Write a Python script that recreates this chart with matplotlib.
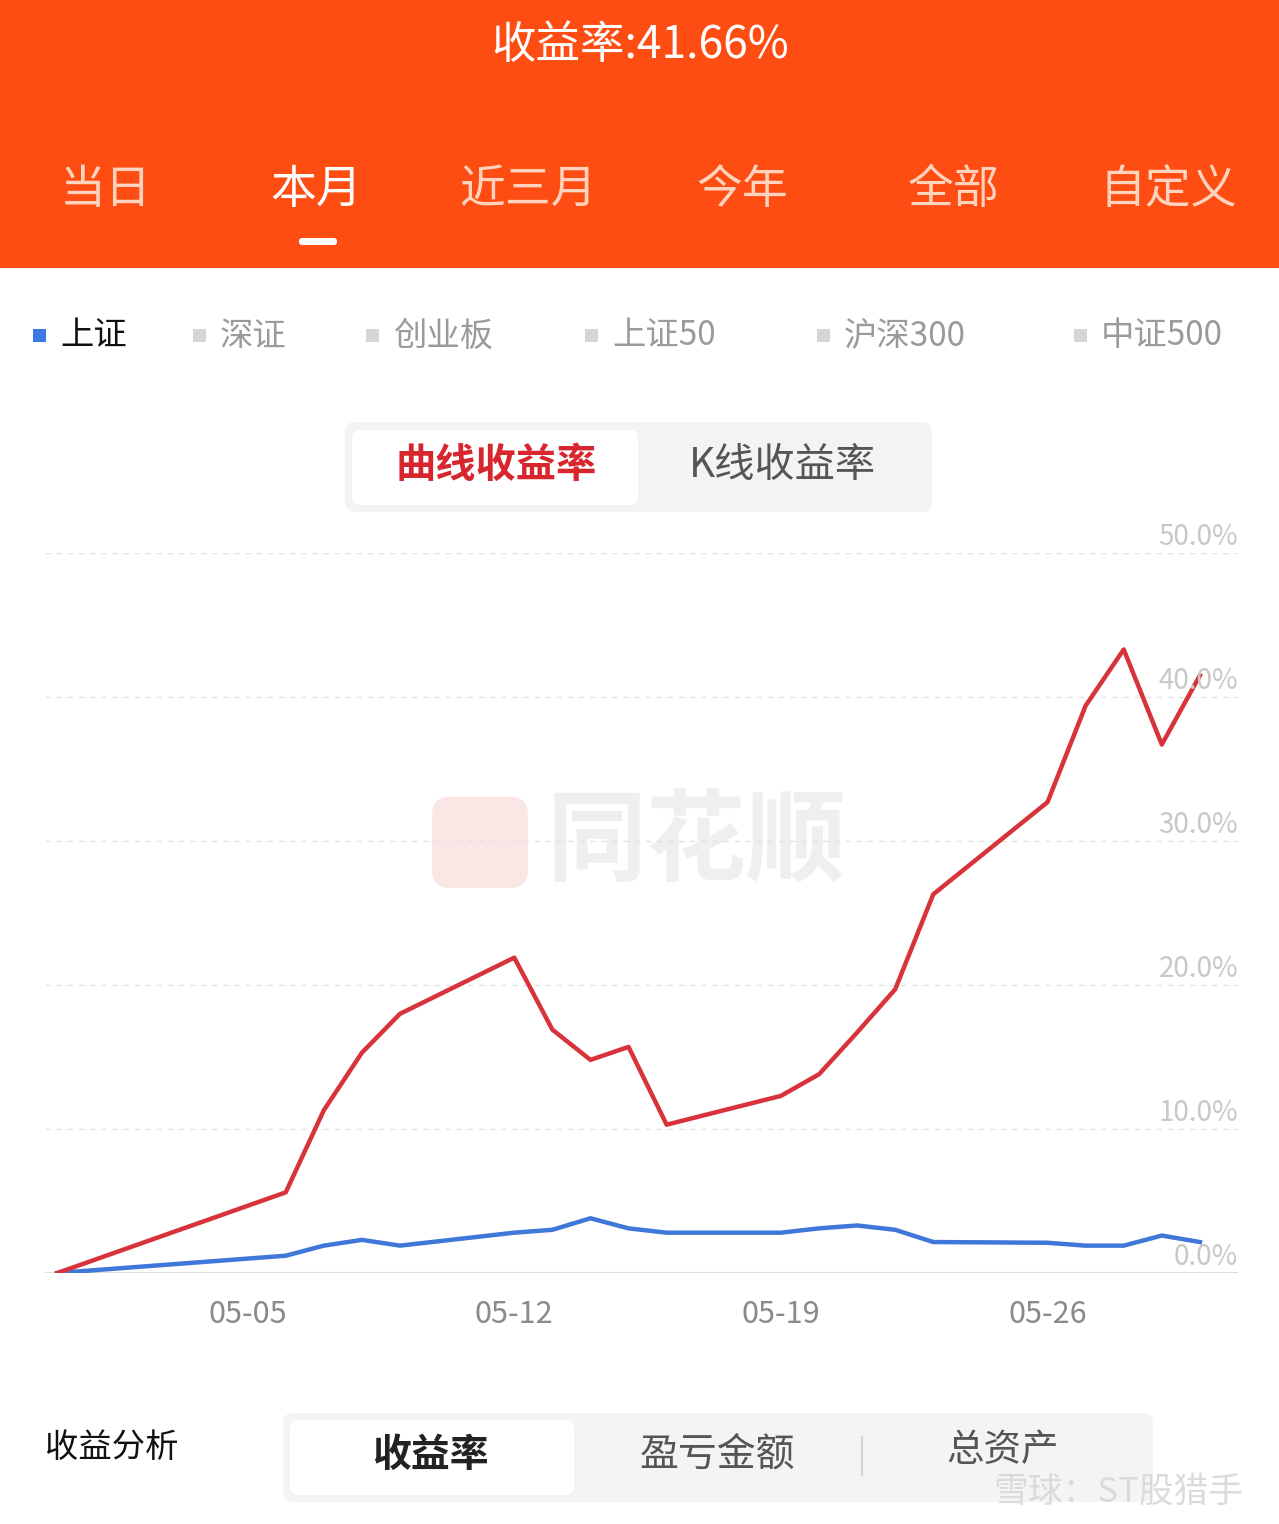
import pandas as pd
import matplotlib.pyplot as plt
import matplotlib.dates as mdates
from matplotlib.patches import FancyBboxPatch, Rectangle

plt.rcParams['font.family'] = ['Noto Sans CJK SC', 'DejaVu Sans']

# data (return in %)
dates = ['2025-04-30', '2025-05-06', '2025-05-07', '2025-05-08', '2025-05-09',
         '2025-05-12', '2025-05-13', '2025-05-14', '2025-05-15', '2025-05-16',
         '2025-05-19', '2025-05-20', '2025-05-21', '2025-05-22', '2025-05-23',
         '2025-05-26', '2025-05-27', '2025-05-28', '2025-05-29', '2025-05-30']
account = [0.0, 5.6, 11.3, 15.3, 18.0,
           21.9, 16.9, 14.8, 15.7, 10.3,
           12.3, 13.8, 16.7, 19.7, 26.3,
           32.7, 39.4, 43.3, 36.7, 41.5]
shanghai = [0.0, 1.2, 1.9, 2.3, 1.9,
            2.8, 3.0, 3.8, 3.1, 2.8,
            2.8, 3.1, 3.3, 3.0, 2.15,
            2.1, 1.9, 1.9, 2.6, 2.15]
xtick_dates = ['2025-05-05', '2025-05-12', '2025-05-19', '2025-05-26']
xtick_labels = ['05-05', '05-12', '05-19', '05-26']
yticks = [0, 10, 20, 30, 40, 50]

periods = ['当日', '本月', '近三月', '今年', '全部', '自定义']
period_x = [106, 316, 528, 742, 954, 1168]
indices = ['上证', '深证', '创业板', '上证50', '沪深300', '中证500']
index_x = [33, 193, 366, 585, 817, 1074]

W, H = 1279, 1524
fig = plt.figure(figsize=(W / 100, H / 100), dpi=100)
fig.patch.set_facecolor('white')

# background layer in pixel coordinates
bg = fig.add_axes([0, 0, 1, 1], zorder=0)
bg.set_xlim(0, W)
bg.set_ylim(H, 0)
bg.axis('off')

# orange header
bg.add_patch(Rectangle((0, 0), W, 268, color='#fe4d12', lw=0))
bg.text(640, 45, '收益率:41.66%', color='white', fontsize=32,
        ha='center', va='center')
for i, (name, x) in enumerate(zip(periods, period_x)):
    c = 'white' if i == 1 else '#ffd3bd'
    bg.text(x, 190, name, color=c, fontsize=33, ha='center', va='center')
bg.add_patch(FancyBboxPatch((299, 238), 38, 7, boxstyle='round,pad=0,rounding_size=3',
                            color='white', lw=0))

# index selector row
for i, (name, x) in enumerate(zip(indices, index_x)):
    sq = '#3a78e6' if i == 0 else '#d6d6d6'
    tc = '#111111' if i == 0 else '#9a9a9a'
    bg.add_patch(Rectangle((x, 329), 13, 13, color=sq, lw=0))
    bg.text(x + 27, 336, name, color=tc, fontsize=24, ha='left', va='center')

# curve / K-line toggle
bg.add_patch(FancyBboxPatch((345, 422), 587, 90, boxstyle='round,pad=0,rounding_size=10',
                            color='#f3f3f3', lw=0))
bg.add_patch(FancyBboxPatch((352, 430), 286, 75, boxstyle='round,pad=0,rounding_size=8',
                            color='white', lw=0))
bg.text(496, 465, '曲线收益率', color='#d8262e', fontsize=29, fontweight='bold',
        ha='center', va='center')
bg.text(782, 465, 'K线收益率', color='#555555', fontsize=29, ha='center', va='center')

# watermark
bg.add_patch(FancyBboxPatch((432, 797), 96, 91, boxstyle='round,pad=0,rounding_size=18',
                            color='#fbe6e6', lw=0))
bg.text(697, 843, '同花顺', color='#efefef', fontsize=72, fontweight='bold',
        fontstyle='italic', ha='center', va='center')

# bottom analysis selector
bg.text(45, 1447, '收益分析', color='#111111', fontsize=24, ha='left', va='center')
bg.add_patch(FancyBboxPatch((283, 1413), 870, 89, boxstyle='round,pad=0,rounding_size=10',
                            color='#f4f4f4', lw=0))
bg.add_patch(FancyBboxPatch((290, 1420), 284, 75, boxstyle='round,pad=0,rounding_size=8',
                            color='white', lw=0))
bg.text(430, 1455, '收益率', color='#222222', fontsize=28, fontweight='bold',
        ha='center', va='center')
bg.text(717, 1455, '盈亏金额', color='#555555', fontsize=28, ha='center', va='center')
bg.plot([862, 862], [1437, 1475], color='#d5d5d5', lw=1.5)
bg.text(1003, 1450, '总资产', color='#555555', fontsize=27, ha='center', va='center')
bg.text(1243, 1492, '雪球：ST股猎手', color='#d8d8d8', fontsize=25, alpha=0.9,
        ha='right', va='center')

# chart
x = pd.to_datetime(dates)
left, right, top, bottom = 45, 1238, 553, 1273
ax = fig.add_axes([left / W, 1 - bottom / H, (right - left) / W, (bottom - top) / H], zorder=1)
ax.patch.set_alpha(0)
ax.plot(x, shanghai, color='#3f78d8', lw=3.2, solid_joinstyle='round')
ax.plot(x, account, color='#d8323a', lw=3.2, solid_joinstyle='round')

x0 = pd.Timestamp('2025-04-30') - pd.Timedelta(days=0.32)
x1 = pd.Timestamp('2025-05-31') + pd.Timedelta(days=0.0)
ax.set_xlim(x0, x1)
ax.set_ylim(0, 50)
for s in ax.spines.values():
    s.set_visible(False)
for v in yticks[1:]:
    ax.axhline(v, color='#e2e2e2', lw=1, ls=(0, (4, 4)), zorder=0)
    ax.text(1, v + 1.1, f'{v:.1f}%', transform=ax.get_yaxis_transform(),
            color='#c8c8c8', fontsize=20, ha='right', va='center')
ax.axhline(0, color='#dddddd', lw=1.5, zorder=0)
ax.text(1, 1.1, '0.0%', transform=ax.get_yaxis_transform(),
        color='#c8c8c8', fontsize=20, ha='right', va='center')
ax.set_yticks([])
ax.set_xticks(pd.to_datetime(xtick_dates))
ax.set_xticklabels(xtick_labels, color='#8a8a8a', fontsize=22)
ax.tick_params(axis='x', length=0, pad=19)

fig.savefig('out.png', dpi=100)
